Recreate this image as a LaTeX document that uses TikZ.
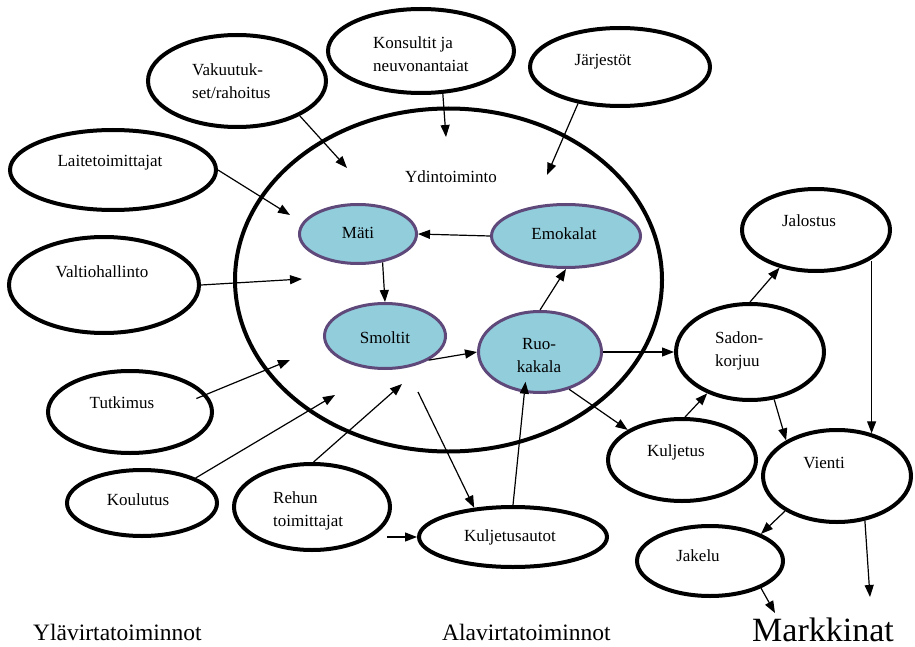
\documentclass[tikz,border=0pt]{standalone}
\usepackage{fontspec}
\setmainfont{Liberation Serif}
\usetikzlibrary{shapes.geometric,arrows.meta}
\definecolor{fishfill}{HTML}{92CDDC}
\definecolor{fishline}{HTML}{5F497A}

\begin{document}
\begin{tikzpicture}[x=1pt,y=-1pt,
  actor/.style={ellipse,draw=black,line width=4pt,inner sep=0pt},
  fish/.style={ellipse,draw=fishline,fill=fishfill,line width=3pt,inner sep=0pt},
  txt/.style={inner sep=0pt,font=\fontsize{17}{23}\selectfont},
  arr/.style={line width=1.2pt,-{Triangle[length=12pt,width=9pt]}}]
\useasboundingbox (0,0) rectangle (915,647);

% core activity
\node[actor,minimum width=427pt,minimum height=343pt] (core) at (448.5,280) {};
\node[txt,anchor=base] (coreT) at (451,183) {Ydintoiminto};

% surrounding actors
\node[actor,minimum width=178pt,minimum height=92pt] (vak) at (237,81) {};
\node[actor,minimum width=186pt,minimum height=84pt] (kon) at (421,51) {};
\node[actor,minimum width=180pt,minimum height=78pt] (jar) at (620,67) {};
\node[actor,minimum width=206pt,minimum height=80pt] (lait) at (113,170) {};
\node[actor,minimum width=190pt,minimum height=96pt] (valt) at (104,285) {};
\node[actor,minimum width=164pt,minimum height=82pt] (tut) at (130,412) {};
\node[actor,minimum width=150pt,minimum height=66pt] (kou) at (142,503) {};
\node[actor,minimum width=156pt,minimum height=86pt] (reh) at (312,507) {};
\node[actor,minimum width=188pt,minimum height=60pt] (auto) at (513,537) {};
\node[actor,minimum width=148pt,minimum height=82pt] (jal) at (816,230) {};
\node[actor,minimum width=148pt,minimum height=96pt] (sad) at (750,352) {};
\node[actor,minimum width=148pt,minimum height=82pt] (klj) at (682,460) {};
\node[actor,minimum width=148pt,minimum height=92pt] (vie) at (837,476) {};
\node[actor,minimum width=146pt,minimum height=70pt] (jak) at (710,561) {};

% fish life cycle
\node[fish,minimum width=117pt,minimum height=59pt] (mati) at (358,234) {};
\node[fish,minimum width=149pt,minimum height=63pt] (emo) at (566,236) {};
\node[fish,minimum width=121pt,minimum height=65pt] (smo) at (385,336) {};
\node[fish,minimum width=123pt,minimum height=81pt] (ruo) at (540,352) {};

% labels
\node[txt,anchor=north west,align=left] (vakT) at (192,63.4) {Vakuutuk-\\set/rahoitus};
\node[txt,anchor=north west,align=left] (konT) at (373,36.4) {Konsultit ja\\neuvonantaiat};
\node[txt,anchor=base] (jarT) at (603,66) {Järjestöt};
\node[txt,anchor=base] (laitT) at (110,167) {Laitetoimittajat};
\node[txt,anchor=base] (valtT) at (102,277) {Valtiohallinto};
\node[txt,anchor=base] (tutT) at (122,408) {Tutkimus};
\node[txt,anchor=base] (kouT) at (138,505) {Koulutus};
\node[txt,anchor=north west,align=left] (rehT) at (273,491.4) {Rehun\\toimittajat};
\node[txt,anchor=base] (autoT) at (510,541) {Kuljetusautot};
\node[txt,anchor=base] (jalT) at (809,226) {Jalostus};
\node[txt,anchor=north west,align=left] (sadT) at (715,331.4) {Sadon-\\korjuu};
\node[txt,anchor=base] (kljT) at (676,456) {Kuljetus};
\node[txt,anchor=base] (vieT) at (824,468) {Vienti};
\node[txt,anchor=base] (jakT) at (698,561) {Jakelu};
\node[txt,anchor=base] (matiT) at (358,238) {Mäti};
\node[txt,anchor=base] (emoT) at (564,239) {Emokalat};
\node[txt,anchor=base] (smoT) at (385,343) {Smoltit};
\node[txt,anchor=north,align=center] (ruoT) at (539,337.7) {Ruo-\\kakala};

\node[anchor=base west,inner sep=0pt,font=\fontsize{23.5}{28}\selectfont] (ylaT) at (33,640) {Ylävirtatoiminnot};
\node[anchor=base west,inner sep=0pt,font=\fontsize{23.5}{28}\selectfont] (alaT) at (442,640) {Alavirtatoiminnot};
\node[anchor=base west,inner sep=0pt,font=\fontsize{34}{40}\selectfont] (markT) at (752,641) {Markkinat};

% free ends of connectors
\coordinate (vakIn) at (347,168);
\coordinate (konIn) at (446,137);
\coordinate (jarIn) at (547,175);
\coordinate (laitIn) at (290,215);
\coordinate (valtIn) at (302,279);
\coordinate (tutIn) at (290,360);
\coordinate (kouIn) at (335,395);
\coordinate (rehIn) at (402,384);
\coordinate (coreOut) at (418,392);
\coordinate (vieOut) at (870,597);
\coordinate (jakOut) at (775,613);

% connectors
\draw[arr] (vak.-29) -- (vakIn);
\draw[arr] (kon.-63) -- (konIn);
\draw[arr] (jar.-139) -- (jarIn);
\draw[arr] (lait.east) -- (laitIn);
\draw[arr] (valt.east) -- (valtIn);
\draw[arr,shorten <=-11pt] (tut.13) -- (tutIn);
\draw[arr] (kou.25) -- (kouIn);
\draw[arr] (reh.88) -- (rehIn);
\draw[arr,shorten <=-5pt] (auto.west -| reh.east) -- (auto.west);
\draw[arr] (coreOut) -- (auto.143);
\draw[arr,shorten >=-11pt] (auto.north) -- (ruo.-111);
\draw[arr] (emo.west) -- (mati.east);
\draw[arr] (mati.-49) -- (smo.north);
\draw[arr] (smo.-29) -- (ruo.west);
\draw[arr] (ruo.north) -- (emo.south);
\draw[arr] (ruo.east) -- (sad.west);
\draw[arr] (ruo.-52) -- (klj.151);
\draw[arr] (klj.86) -- (sad.-136);
\draw[arr] (sad.north) -- (jal.-134);
\draw[arr] (jal.-31 -| vie.51) -- (vie.51);
\draw[arr] (sad.-63) -- (vie.145);
\draw[arr] (vie.-146) -- (jak.28);
\draw[arr] (vie.-58) -- (vieOut);
\draw[arr] (jak.-28) -- (jakOut);
\end{tikzpicture}
\end{document}
